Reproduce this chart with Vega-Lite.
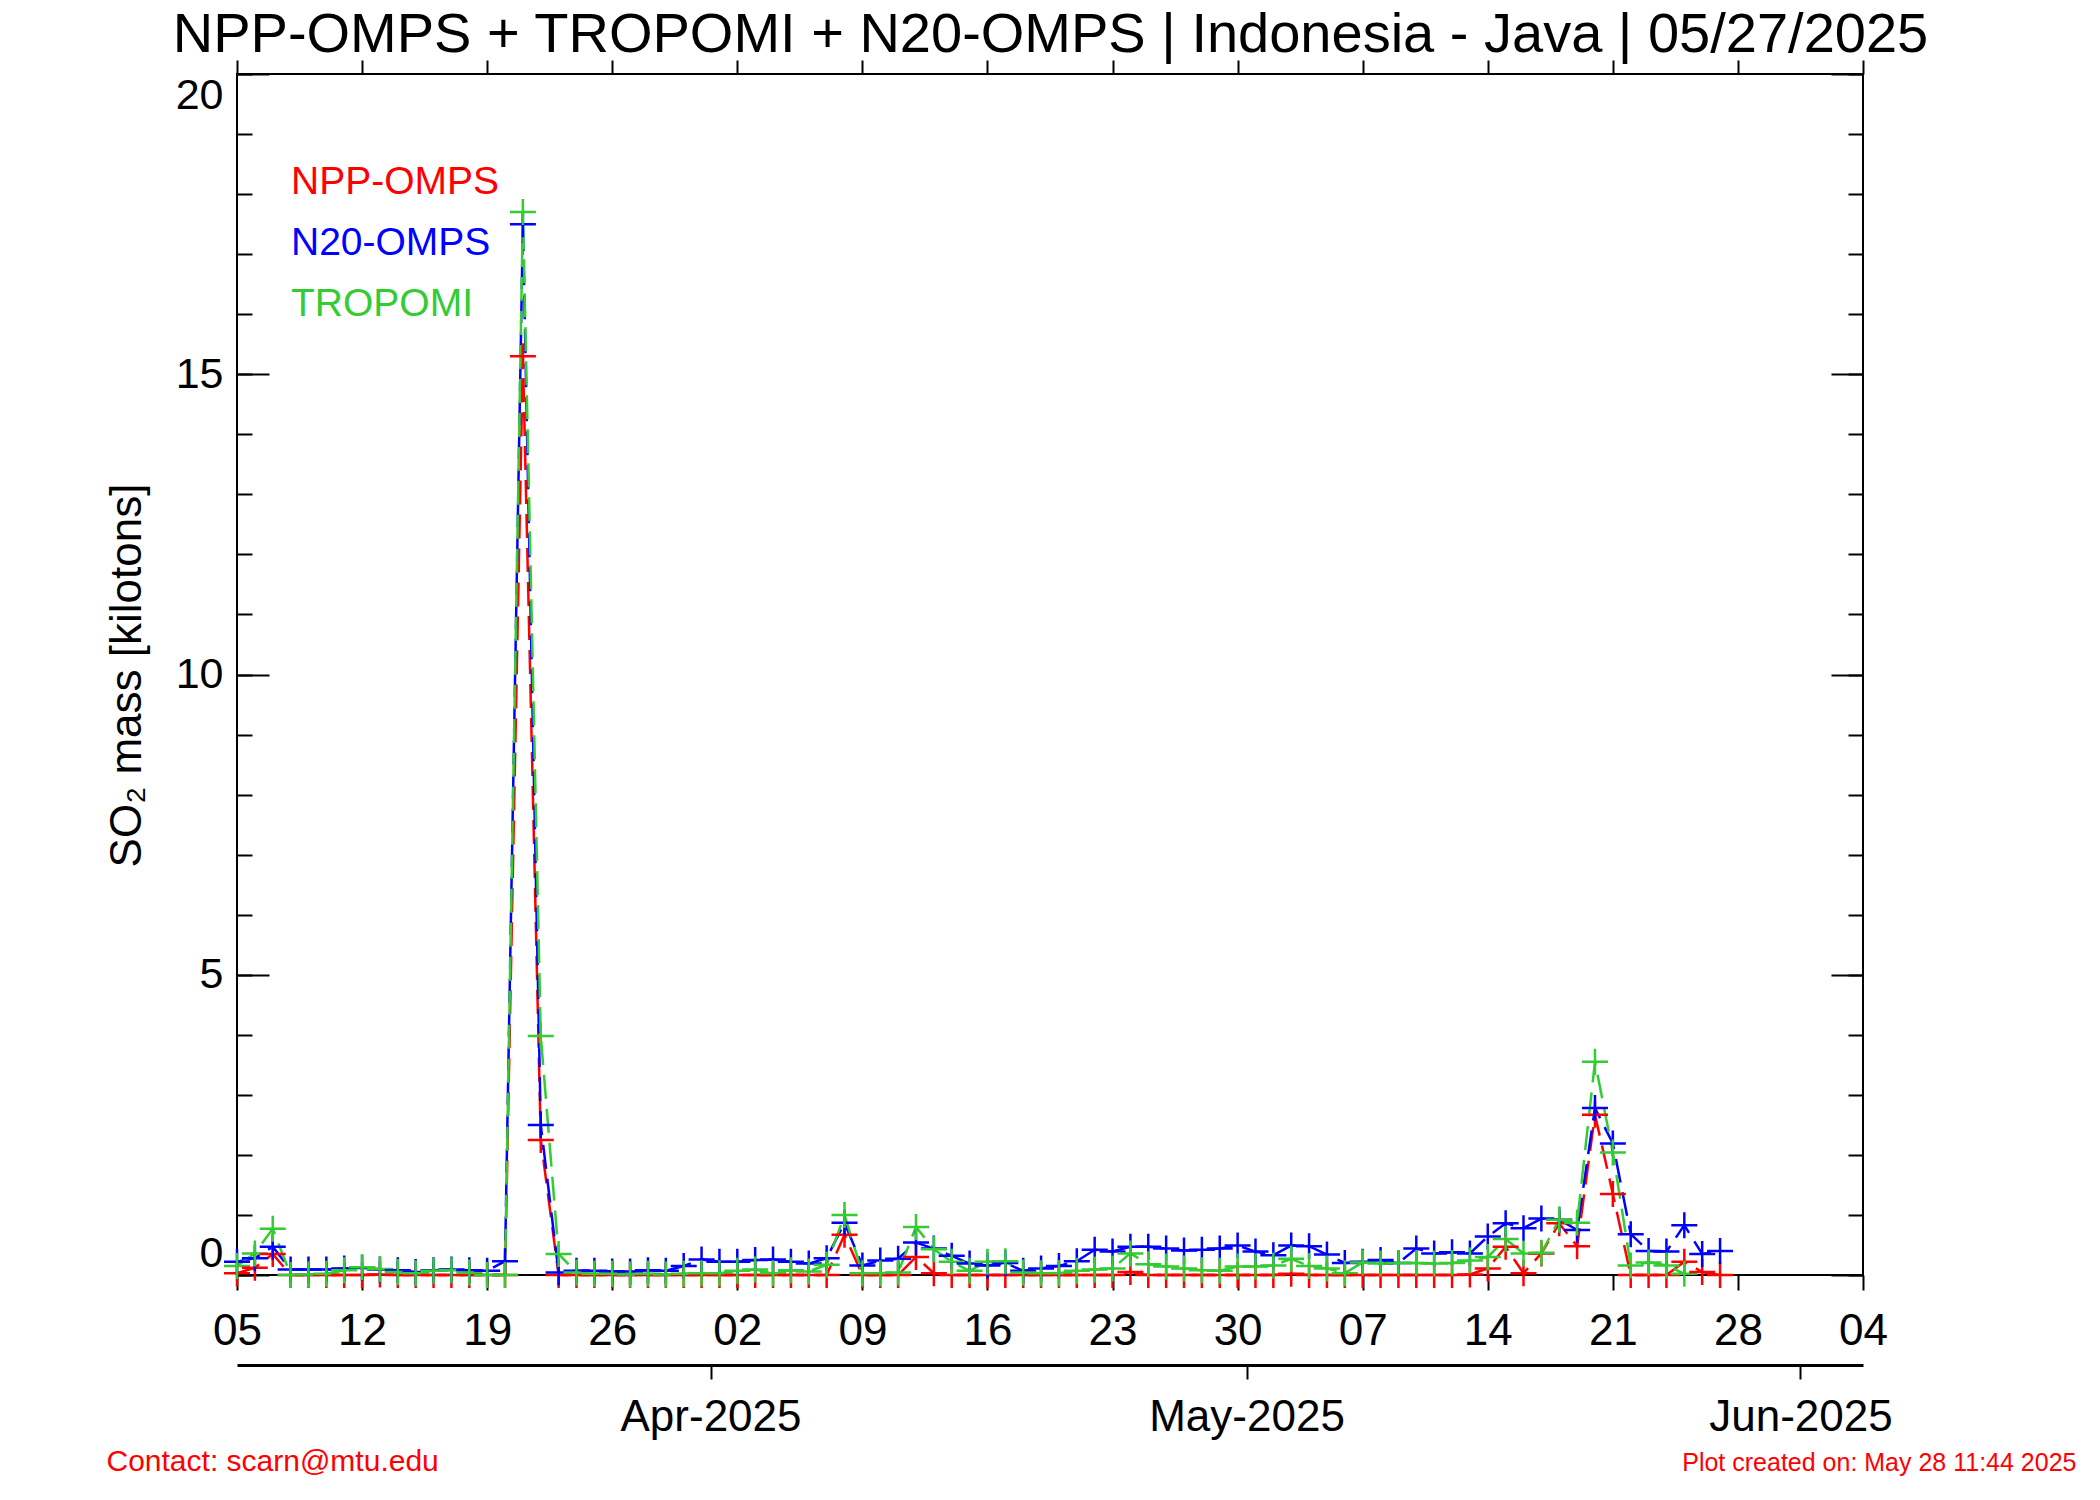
{
  "$schema": "https://vega.github.io/schema/vega-lite/v6.json",
  "width": 1626,
  "height": 1201,
  "autosize": "none",
  "padding": {"left": 237, "top": 74, "right": 237, "bottom": 225},
  "background": "white",
  "config": {
    "font": "Liberation Sans",
    "view": {"stroke": "black", "strokeWidth": 2},
    "axis": {"labelFont": "Liberation Sans", "titleFont": "Liberation Sans", "labelColor": "black", "titleColor": "black", "tickColor": "black", "tickWidth": 2, "grid": false, "domainColor": "black", "labelLimit": 500, "titleLimit": 2000}
  },
  "data": {"values": [
    {"date": "2025-03-05", "NPP-OMPS": 0.03, "N20-OMPS": 0.22, "TROPOMI": 0.15},
    {"date": "2025-03-06", "NPP-OMPS": 0.12, "N20-OMPS": 0.28, "TROPOMI": 0.36},
    {"date": "2025-03-07", "NPP-OMPS": 0.35, "N20-OMPS": 0.47, "TROPOMI": 0.77},
    {"date": "2025-03-08", "NPP-OMPS": 0, "N20-OMPS": 0.09, "TROPOMI": 0},
    {"date": "2025-03-09", "NPP-OMPS": 0, "N20-OMPS": 0.09, "TROPOMI": 0.01},
    {"date": "2025-03-10", "NPP-OMPS": 0, "N20-OMPS": 0.09, "TROPOMI": 0.02},
    {"date": "2025-03-11", "NPP-OMPS": 0, "N20-OMPS": 0.11, "TROPOMI": 0.08},
    {"date": "2025-03-12", "NPP-OMPS": 0, "N20-OMPS": 0.12, "TROPOMI": 0.13},
    {"date": "2025-03-13", "NPP-OMPS": 0.01, "N20-OMPS": 0.09, "TROPOMI": 0.1},
    {"date": "2025-03-14", "NPP-OMPS": 0, "N20-OMPS": 0.08, "TROPOMI": 0.05},
    {"date": "2025-03-15", "NPP-OMPS": 0, "N20-OMPS": 0.05, "TROPOMI": 0.03},
    {"date": "2025-03-16", "NPP-OMPS": 0, "N20-OMPS": 0.08, "TROPOMI": 0.07},
    {"date": "2025-03-17", "NPP-OMPS": 0, "N20-OMPS": 0.09, "TROPOMI": 0.08},
    {"date": "2025-03-18", "NPP-OMPS": 0, "N20-OMPS": 0.08, "TROPOMI": 0.04},
    {"date": "2025-03-19", "NPP-OMPS": 0, "N20-OMPS": 0.07, "TROPOMI": 0},
    {"date": "2025-03-20", "NPP-OMPS": 0, "N20-OMPS": 0.23, "TROPOMI": 0},
    {"date": "2025-03-21", "NPP-OMPS": 15.3, "N20-OMPS": 17.5, "TROPOMI": 17.7},
    {"date": "2025-03-22", "NPP-OMPS": 2.25, "N20-OMPS": 2.5, "TROPOMI": 3.98},
    {"date": "2025-03-23", "NPP-OMPS": 0, "N20-OMPS": 0.04, "TROPOMI": 0.35},
    {"date": "2025-03-24", "NPP-OMPS": 0, "N20-OMPS": 0.07, "TROPOMI": 0.04},
    {"date": "2025-03-25", "NPP-OMPS": 0, "N20-OMPS": 0.07, "TROPOMI": 0.02},
    {"date": "2025-03-26", "NPP-OMPS": 0, "N20-OMPS": 0.06, "TROPOMI": 0.02},
    {"date": "2025-03-27", "NPP-OMPS": 0, "N20-OMPS": 0.06, "TROPOMI": 0.01},
    {"date": "2025-03-28", "NPP-OMPS": 0, "N20-OMPS": 0.08, "TROPOMI": 0.02},
    {"date": "2025-03-29", "NPP-OMPS": 0, "N20-OMPS": 0.07, "TROPOMI": 0.01},
    {"date": "2025-03-30", "NPP-OMPS": 0, "N20-OMPS": 0.15, "TROPOMI": 0.02},
    {"date": "2025-03-31", "NPP-OMPS": 0, "N20-OMPS": 0.26, "TROPOMI": 0.03},
    {"date": "2025-04-01", "NPP-OMPS": 0, "N20-OMPS": 0.22, "TROPOMI": 0.03},
    {"date": "2025-04-02", "NPP-OMPS": 0, "N20-OMPS": 0.22, "TROPOMI": 0.07},
    {"date": "2025-04-03", "NPP-OMPS": 0, "N20-OMPS": 0.25, "TROPOMI": 0.09},
    {"date": "2025-04-04", "NPP-OMPS": 0, "N20-OMPS": 0.26, "TROPOMI": 0.03},
    {"date": "2025-04-05", "NPP-OMPS": 0, "N20-OMPS": 0.22, "TROPOMI": 0.08},
    {"date": "2025-04-06", "NPP-OMPS": 0, "N20-OMPS": 0.19, "TROPOMI": 0.06},
    {"date": "2025-04-07", "NPP-OMPS": 0, "N20-OMPS": 0.28, "TROPOMI": 0.17},
    {"date": "2025-04-08", "NPP-OMPS": 0.67, "N20-OMPS": 0.87, "TROPOMI": 1.0},
    {"date": "2025-04-09", "NPP-OMPS": 0, "N20-OMPS": 0.16, "TROPOMI": 0.03},
    {"date": "2025-04-10", "NPP-OMPS": 0, "N20-OMPS": 0.24, "TROPOMI": 0.03},
    {"date": "2025-04-11", "NPP-OMPS": 0, "N20-OMPS": 0.27, "TROPOMI": 0.04},
    {"date": "2025-04-12", "NPP-OMPS": 0.3, "N20-OMPS": 0.54, "TROPOMI": 0.8},
    {"date": "2025-04-13", "NPP-OMPS": 0.03, "N20-OMPS": 0.44, "TROPOMI": 0.43},
    {"date": "2025-04-14", "NPP-OMPS": 0, "N20-OMPS": 0.32, "TROPOMI": 0.22},
    {"date": "2025-04-15", "NPP-OMPS": 0, "N20-OMPS": 0.19, "TROPOMI": 0.07},
    {"date": "2025-04-16", "NPP-OMPS": 0, "N20-OMPS": 0.16, "TROPOMI": 0.22},
    {"date": "2025-04-17", "NPP-OMPS": 0, "N20-OMPS": 0.2, "TROPOMI": 0.23},
    {"date": "2025-04-18", "NPP-OMPS": 0, "N20-OMPS": 0.07, "TROPOMI": 0.04},
    {"date": "2025-04-19", "NPP-OMPS": 0, "N20-OMPS": 0.11, "TROPOMI": 0.03},
    {"date": "2025-04-20", "NPP-OMPS": 0, "N20-OMPS": 0.15, "TROPOMI": 0.03},
    {"date": "2025-04-21", "NPP-OMPS": 0, "N20-OMPS": 0.23, "TROPOMI": 0.07},
    {"date": "2025-04-22", "NPP-OMPS": 0, "N20-OMPS": 0.42, "TROPOMI": 0.09},
    {"date": "2025-04-23", "NPP-OMPS": 0, "N20-OMPS": 0.39, "TROPOMI": 0.11},
    {"date": "2025-04-24", "NPP-OMPS": 0.05, "N20-OMPS": 0.47, "TROPOMI": 0.36},
    {"date": "2025-04-25", "NPP-OMPS": 0, "N20-OMPS": 0.47, "TROPOMI": 0.18},
    {"date": "2025-04-26", "NPP-OMPS": 0, "N20-OMPS": 0.44, "TROPOMI": 0.14},
    {"date": "2025-04-27", "NPP-OMPS": 0, "N20-OMPS": 0.41, "TROPOMI": 0.11},
    {"date": "2025-04-28", "NPP-OMPS": 0, "N20-OMPS": 0.42, "TROPOMI": 0.08},
    {"date": "2025-04-29", "NPP-OMPS": 0, "N20-OMPS": 0.44, "TROPOMI": 0.07},
    {"date": "2025-04-30", "NPP-OMPS": 0, "N20-OMPS": 0.49, "TROPOMI": 0.14},
    {"date": "2025-05-01", "NPP-OMPS": 0, "N20-OMPS": 0.39, "TROPOMI": 0.14},
    {"date": "2025-05-02", "NPP-OMPS": 0, "N20-OMPS": 0.33, "TROPOMI": 0.16},
    {"date": "2025-05-03", "NPP-OMPS": 0.02, "N20-OMPS": 0.49, "TROPOMI": 0.27},
    {"date": "2025-05-04", "NPP-OMPS": 0, "N20-OMPS": 0.48, "TROPOMI": 0.15},
    {"date": "2025-05-05", "NPP-OMPS": 0, "N20-OMPS": 0.34, "TROPOMI": 0.11},
    {"date": "2025-05-06", "NPP-OMPS": 0, "N20-OMPS": 0.2, "TROPOMI": 0.03},
    {"date": "2025-05-07", "NPP-OMPS": 0, "N20-OMPS": 0.22, "TROPOMI": 0.21},
    {"date": "2025-05-08", "NPP-OMPS": 0, "N20-OMPS": 0.25, "TROPOMI": 0.19},
    {"date": "2025-05-09", "NPP-OMPS": 0, "N20-OMPS": 0.2, "TROPOMI": 0.2},
    {"date": "2025-05-10", "NPP-OMPS": 0, "N20-OMPS": 0.44, "TROPOMI": 0.2},
    {"date": "2025-05-11", "NPP-OMPS": 0, "N20-OMPS": 0.36, "TROPOMI": 0.19},
    {"date": "2025-05-12", "NPP-OMPS": 0, "N20-OMPS": 0.38, "TROPOMI": 0.2},
    {"date": "2025-05-13", "NPP-OMPS": 0.01, "N20-OMPS": 0.36, "TROPOMI": 0.24},
    {"date": "2025-05-14", "NPP-OMPS": 0.11, "N20-OMPS": 0.64, "TROPOMI": 0.3},
    {"date": "2025-05-15", "NPP-OMPS": 0.47, "N20-OMPS": 0.86, "TROPOMI": 0.6},
    {"date": "2025-05-16", "NPP-OMPS": 0.03, "N20-OMPS": 0.78, "TROPOMI": 0.36},
    {"date": "2025-05-17", "NPP-OMPS": 0.36, "N20-OMPS": 0.94, "TROPOMI": 0.37},
    {"date": "2025-05-18", "NPP-OMPS": 0.86, "N20-OMPS": 0.92, "TROPOMI": 0.92},
    {"date": "2025-05-19", "NPP-OMPS": 0.48, "N20-OMPS": 0.75, "TROPOMI": 0.87},
    {"date": "2025-05-20", "NPP-OMPS": 2.67, "N20-OMPS": 2.78, "TROPOMI": 3.55},
    {"date": "2025-05-21", "NPP-OMPS": 1.35, "N20-OMPS": 2.19, "TROPOMI": 2.04},
    {"date": "2025-05-22", "NPP-OMPS": 0, "N20-OMPS": 0.68, "TROPOMI": 0.16},
    {"date": "2025-05-23", "NPP-OMPS": 0, "N20-OMPS": 0.4, "TROPOMI": 0.21},
    {"date": "2025-05-24", "NPP-OMPS": 0, "N20-OMPS": 0.39, "TROPOMI": 0.16},
    {"date": "2025-05-25", "NPP-OMPS": 0.22, "N20-OMPS": 0.83, "TROPOMI": 0.02},
    {"date": "2025-05-26", "NPP-OMPS": 0.05, "N20-OMPS": 0.35},
    {"date": "2025-05-27", "NPP-OMPS": 0, "N20-OMPS": 0.4}
  ]},
  "transform": [{"fold": ["NPP-OMPS", "N20-OMPS", "TROPOMI"], "as": ["series", "value"]}],
  "layer": [
    {
      "mark": {"type": "line", "strokeDash": [24, 10], "strokeWidth": 2.5},
      "encoding": {
        "x": {"field": "date", "type": "temporal", "scale": {"type": "utc", "domain": [1741132800000, 1748995200000], "nice": false},
          "axis": {"orient": "bottom", "values": [1741132800000,1741737600000,1742342400000,1742947200000,1743552000000,1744156800000,1744761600000,1745366400000,1745971200000,1746576000000,1747180800000,1747785600000,1748390400000,1748995200000],
            "labelExpr": "utcFormat(datum.value, '%d')", "tickSize": 15, "labelFontSize": 44, "labelPadding": 19, "domain": false, "title": null, "labelOverlap": false, "labelFlush": false}},
        "y": {"field": "value", "type": "quantitative", "scale": {"domain": [0, 20], "nice": false},
          "axis": {"orient": "left", "values": [0, 5, 10, 15, 20], "format": "d", "tickSize": -32, "labelFontSize": 43, "labelPadding": 46, "labelFlush": true, "labelFlushOffset": 0, "domain": false,
            "title": "SO₂ mass [kilotons]", "titleFontSize": 44, "titleFontWeight": "normal", "titleX": -110, "titleY": 601, "titleAngle": -90, "titleAlign": "center", "titleBaseline": "middle"}},
        "color": {"field": "series", "type": "nominal",
          "scale": {"domain": ["NPP-OMPS", "N20-OMPS", "TROPOMI"], "range": ["#FF0000", "#0000FF", "#33CC33"]},
          "legend": {"orient": "none", "legendX": 15, "legendY": 88, "title": null, "symbolSize": 0, "symbolStrokeWidth": 0, "symbolOpacity": 0, "labelFontSize": 39, "labelFont": "Liberation Sans", "labelOffset": 0, "rowPadding": 21, "labelLimit": 500,
            "encode": {"labels": {"update": {"fill": {"scale": "color", "field": "value"}}}}}}
      }
    },
    {
      "mark": {"type": "point", "shape": "M-1,0L1,0M0,-1L0,1", "filled": false, "size": 676, "strokeWidth": 2.5, "opacity": 1},
      "encoding": {
        "x": {"field": "date", "type": "temporal", "scale": {"type": "utc", "domain": [1741132800000, 1748995200000], "nice": false}, "axis": null},
        "y": {"field": "value", "type": "quantitative", "scale": {"domain": [0, 20], "nice": false},
          "axis": {"orient": "left", "values": [0,1,2,3,4,5,6,7,8,9,10,11,12,13,14,15,16,17,18,19,20], "tickSize": -15, "labels": false, "domain": false, "title": null}},
        "color": {"field": "series", "type": "nominal", "scale": {"domain": ["NPP-OMPS", "N20-OMPS", "TROPOMI"], "range": ["#FF0000", "#0000FF", "#33CC33"]}, "legend": null}
      }
    },
    {
      "mark": {"type": "point", "opacity": 0},
      "encoding": {
        "x": {"field": "date", "type": "temporal", "scale": {"type": "utc", "domain": [1741132800000, 1748995200000], "nice": false},
          "axis": {"orient": "top", "values": [1741132800000,1741737600000,1742342400000,1742947200000,1743552000000,1744156800000,1744761600000,1745366400000,1745971200000,1746576000000,1747180800000,1747785600000,1748390400000,1748995200000], "tickSize": 14, "labels": false, "domain": false,
            "title": "NPP-OMPS + TROPOMI + N20-OMPS | Indonesia - Java | 05/27/2025", "titleFontSize": 56, "titleFontWeight": "normal", "titleColor": "black", "titleX": 813, "titleY": -23, "titleAlign": "center", "titleBaseline": "alphabetic"}},
        "y": {"field": "value", "type": "quantitative", "scale": {"domain": [0, 20], "nice": false},
          "axis": {"orient": "right", "values": [0, 5, 10, 15, 20], "tickSize": -32, "labels": false, "domain": false, "title": null}}
      }
    },
    {
      "mark": {"type": "point", "opacity": 0},
      "encoding": {
        "x": {"field": "date", "type": "temporal", "scale": {"type": "utc", "domain": [1741132800000, 1748995200000], "nice": false},
          "axis": {"orient": "bottom", "offset": 90, "values": [1743422400000, 1746014400000, 1748692800000], "labelExpr": "utcFormat(time(datum.value) + 43200000, '%b-%Y')", "tickSize": 14, "labelFontSize": 44, "labelPadding": 16, "labelLimit": 500, "domain": true, "domainWidth": 3, "labelOverlap": false, "labelFlush": false,
            "title": "Contact: scarn@mtu.edu", "titleColor": "#FF0000", "titleFontSize": 30, "titleFontWeight": "normal", "titleX": -131, "titleY": 105, "titleAlign": "left", "titleBaseline": "alphabetic"}},
        "y": {"field": "value", "type": "quantitative", "scale": {"domain": [0, 20], "nice": false},
          "axis": {"orient": "right", "values": [0,1,2,3,4,5,6,7,8,9,10,11,12,13,14,15,16,17,18,19,20], "tickSize": -15, "labels": false, "domain": false, "title": null}}
      }
    },
    {
      "mark": {"type": "point", "opacity": 0},
      "encoding": {
        "x": {"field": "date", "type": "temporal", "scale": {"type": "utc", "domain": [1741132800000, 1748995200000], "nice": false},
          "axis": {"orient": "bottom", "ticks": false, "labels": false, "domain": false,
            "title": "Plot created on: May 28 11:44 2025", "titleColor": "#FF0000", "titleFontSize": 25, "titleFontWeight": "normal", "titleX": 1839, "titleY": 195, "titleAlign": "right", "titleBaseline": "alphabetic"}},
        "y": {"field": "value", "type": "quantitative", "scale": {"domain": [0, 20], "nice": false}, "axis": null}
      }
    }
  ],
  "resolve": {"axis": {"x": "independent", "y": "independent"}}
}
